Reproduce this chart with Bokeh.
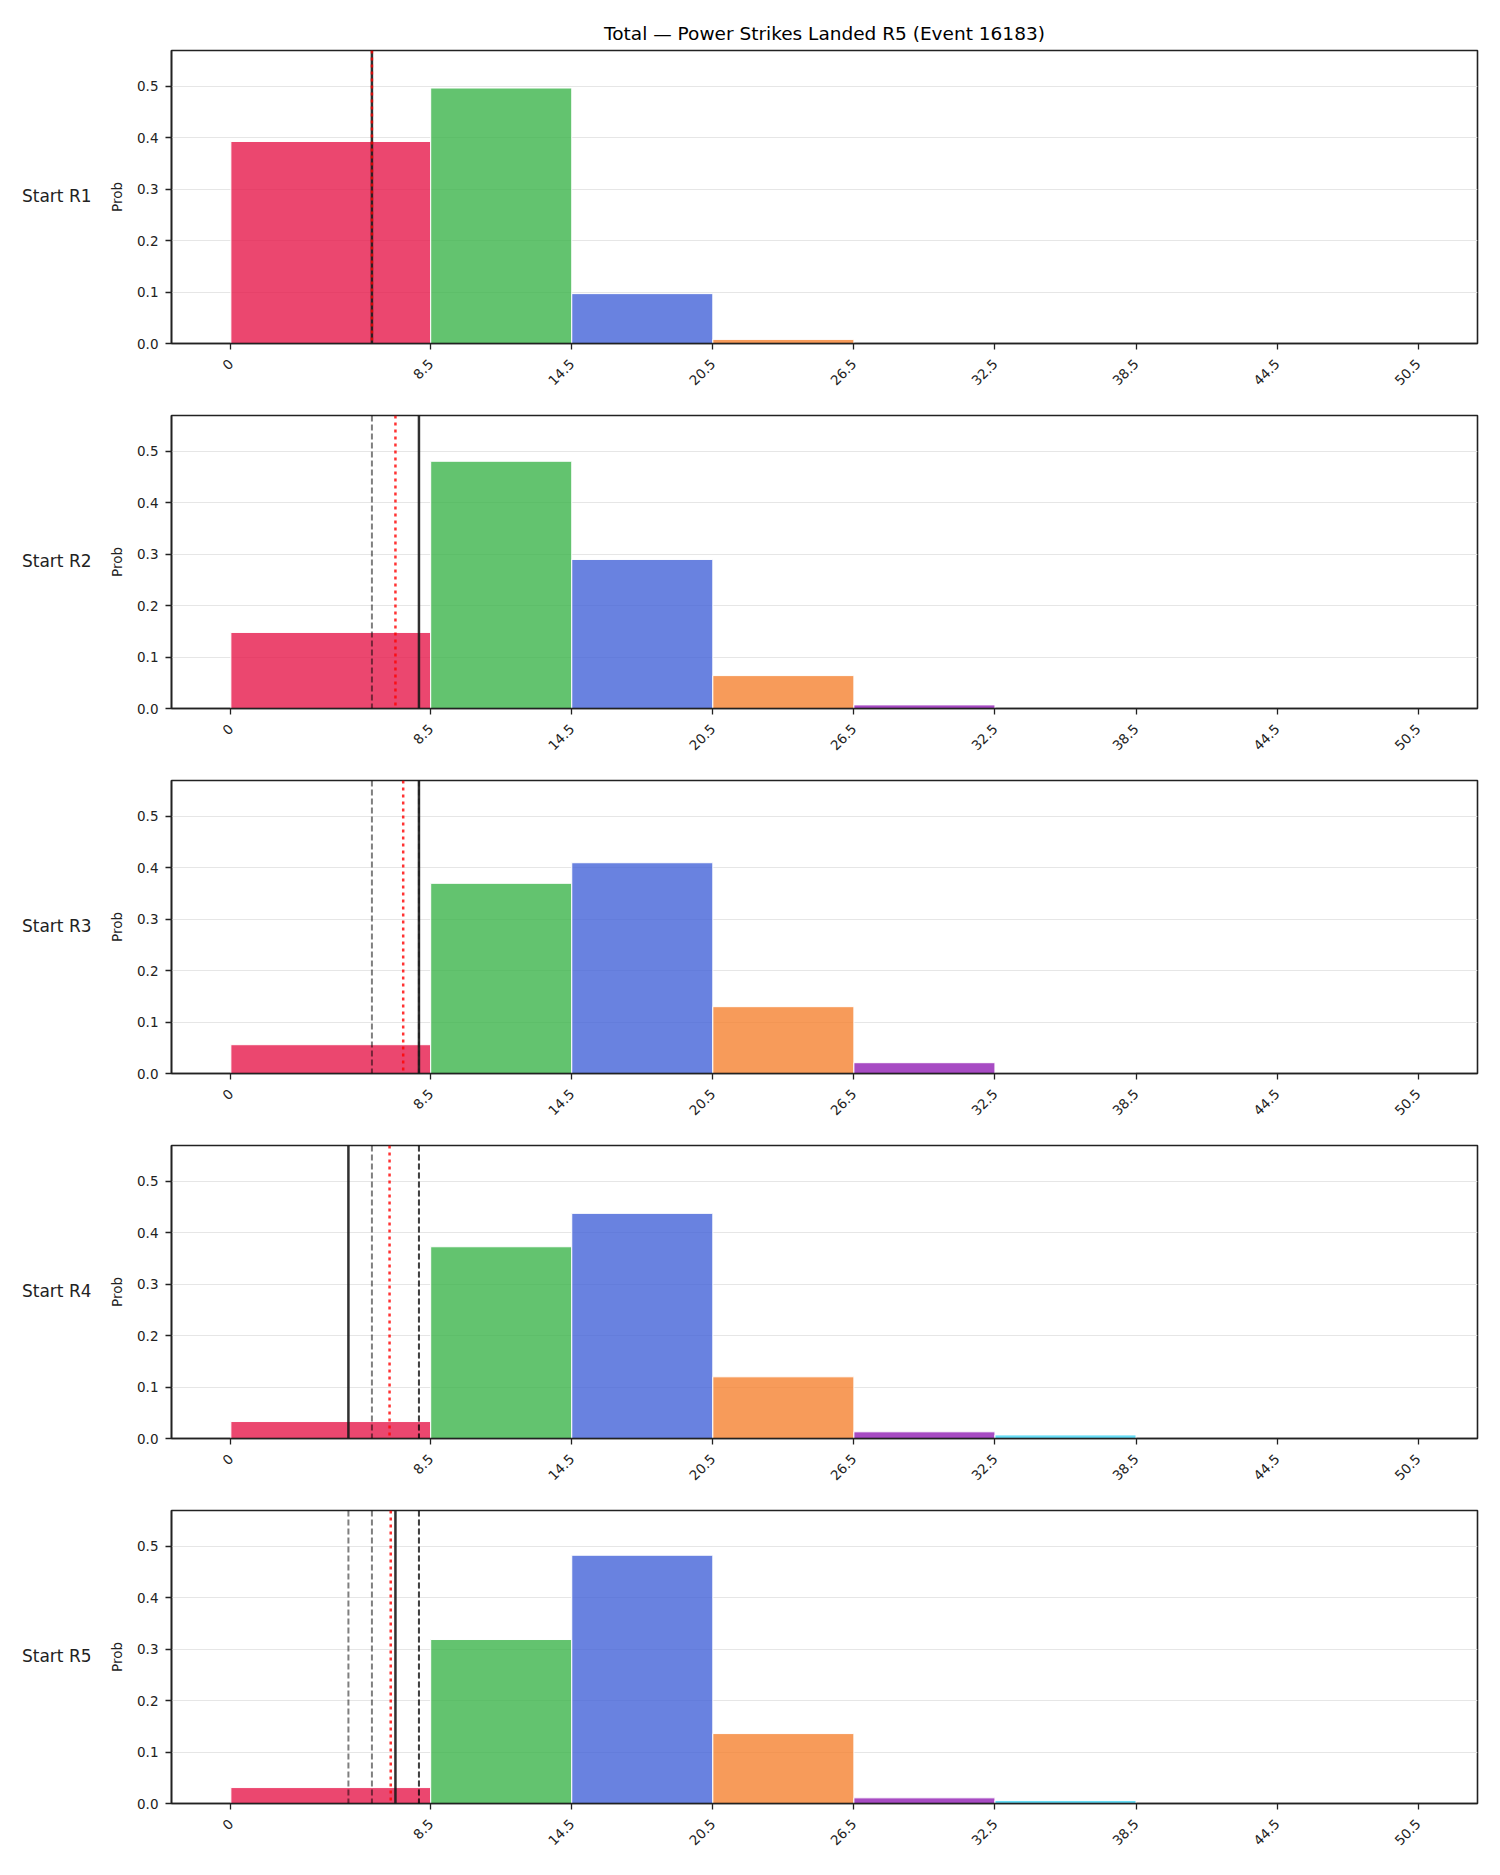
import math
from bokeh.plotting import figure
from bokeh.layouts import column, row
from bokeh.models import Div, Span, FixedTicker, PrintfTickFormatter, Range1d
from bokeh.embed import file_html
from bokeh.resources import INLINE

# ---------------- data ----------------
title_text = "Total — Power Strikes Landed R5 (Event 16183)"
row_labels = ["Start R1", "Start R2", "Start R3", "Start R4", "Start R5"]
bin_edges = [0, 8.5, 14.5, 20.5, 26.5, 32.5, 38.5, 44.5, 50.5]
tick_labels = ["0", "8.5", "14.5", "20.5", "26.5", "32.5", "38.5", "44.5", "50.5"]
y_ticks = [0.0, 0.1, 0.2, 0.3, 0.4, 0.5]
bin_colors = ["#e6194b", "#3cb44b", "#4363d8", "#f58231",
              "#911eb4", "#42d4f4", "#f032e6", "#bfef45"]

prob_r1 = [0.393, 0.497, 0.097, 0.008, 0.0, 0.0, 0.0, 0.0]
prob_r2 = [0.148, 0.481, 0.290, 0.064, 0.007, 0.0, 0.0, 0.0]
prob_r3 = [0.056, 0.370, 0.410, 0.130, 0.021, 0.001, 0.0, 0.0]
prob_r4 = [0.033, 0.373, 0.438, 0.120, 0.013, 0.007, 0.0, 0.0]
prob_r5 = [0.031, 0.319, 0.483, 0.136, 0.011, 0.006, 0.0, 0.0]
probs = [prob_r1, prob_r2, prob_r3, prob_r4, prob_r5]

round_actuals = [6, 8, 8, 5, 7]
running_means = [6.0, 7.0, 7.33, 6.75, 6.8]

# ---------------- styling ----------------
FONT = "DejaVu Sans"
INK = "#222222"
FRAME_W, FRAME_H = 1306, 293
LEFT_DIV_W = 90

rows = []
for i in range(5):
    top_b = 50 if i == 0 else 2
    bot_b = 70
    p = figure(frame_width=FRAME_W, frame_height=FRAME_H,
               min_border_left=81, min_border_right=23,
               min_border_top=top_b, min_border_bottom=bot_b,
               x_range=Range1d(-2.525, 53.025), y_range=Range1d(0, 0.57),
               output_backend="svg", toolbar_location=None,
               background_fill_color="white", border_fill_color="white",
               margin=0)
    if i == 0:
        p.title.text = title_text
        p.title.align = "center"
        p.title.text_font = FONT
        p.title.text_font_size = "18.5px"
        p.title.text_font_style = "normal"
        p.title.text_color = "#000000"
        p.title.standoff = 14

    p.outline_line_color = INK
    p.outline_line_width = 1.6
    p.xgrid.visible = False
    p.ygrid.grid_line_color = "#e6e6e6"
    p.ygrid.grid_line_width = 1

    p.quad(left=bin_edges[:-1], right=bin_edges[1:], bottom=0, top=probs[i],
           fill_color=bin_colors, fill_alpha=0.8,
           line_color="white", line_width=1)

    for v in round_actuals[:i]:
        p.add_layout(Span(location=v, dimension="height", line_color="black",
                          line_alpha=0.5, line_width=2, line_dash="6 3"))
    p.add_layout(Span(location=round_actuals[i], dimension="height",
                      line_color="#1a1a1a", line_alpha=0.9, line_width=2.5))
    p.add_layout(Span(location=running_means[i], dimension="height",
                      line_color="red", line_alpha=0.8, line_width=2.5,
                      line_dash="3 4"))

    for ax in (p.xaxis[0], p.yaxis[0]):
        ax.axis_line_color = INK
        ax.axis_line_width = 1.6
        ax.major_tick_line_color = INK
        ax.major_tick_line_width = 1.3
        ax.major_tick_out = 6
        ax.major_tick_in = 0
        ax.minor_tick_out = 0
        ax.minor_tick_in = 0
        ax.major_label_text_font = FONT
        ax.major_label_text_font_size = "13.5px"
        ax.major_label_text_color = INK

    p.yaxis.ticker = FixedTicker(ticks=y_ticks)
    p.yaxis.formatter = PrintfTickFormatter(format="%.1f")
    p.yaxis.major_label_standoff = 7
    p.yaxis.axis_label = "Prob"
    p.yaxis.axis_label_text_font = FONT
    p.yaxis.axis_label_text_font_size = "13.5px"
    p.yaxis.axis_label_text_font_style = "normal"
    p.yaxis.axis_label_text_color = INK
    p.yaxis.axis_label_standoff = 9

    p.xaxis.ticker = FixedTicker(ticks=bin_edges)
    p.xaxis.major_label_overrides = {e: t for e, t in zip(bin_edges, tick_labels)}
    p.xaxis.major_label_orientation = math.pi / 4
    p.xaxis.major_label_standoff = 12

    h = top_b + FRAME_H + bot_b
    txt_top = top_b + FRAME_H / 2 - 11
    d = Div(text=(f'<div style="position:absolute; top:{txt_top}px; left:22px; '
                  f'font-family:\'{FONT}\'; font-size:17px; color:{INK}; '
                  f'white-space:nowrap; line-height:20px;">{row_labels[i]}</div>'),
            width=LEFT_DIV_W, height=h, margin=0)
    rows.append(row(d, p, spacing=0, margin=0))

layout = column(*rows, spacing=0, margin=0)
open("out.html", "w").write(file_html(layout, INLINE))
